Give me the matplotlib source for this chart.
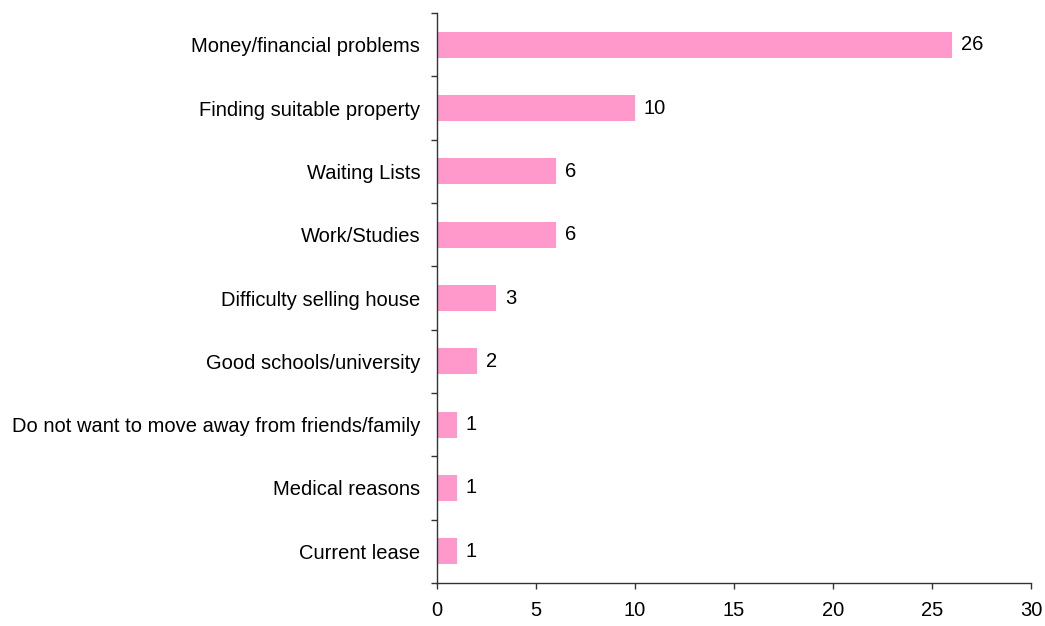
import matplotlib.pyplot as plt
import numpy as np

plt.rcParams['font.family'] = ['Liberation Sans', 'DejaVu Sans']

reasons = ['Money/financial problems', 'Finding suitable property', 'Waiting Lists',
           'Work/Studies', 'Difficulty selling house', 'Good schools/university',
           'Do not want to move away from friends/family', 'Medical reasons', 'Current lease']
counts = [26, 10, 6, 6, 3, 2, 1, 1, 1]

fig = plt.figure(figsize=(10.45, 6.26), dpi=100)
ax = fig.add_axes([0.4182, 0.0687, 0.5684, 0.9105])

y = np.arange(len(reasons))[::-1]
ax.barh(y, counts, height=0.41, color='#FF99CC')
for yi, c in zip(y, counts):
    ax.text(c + 0.45, yi, str(c), va='center', ha='left', fontsize=14.5, color='black')

ax.set_xlim(0, 30)
ax.set_ylim(-0.5, len(reasons) - 0.5)
ax.set_xticks([0, 5, 10, 15, 20, 25, 30])

# category names sit between the boundary ticks
ax.set_yticks(y)
ax.set_yticklabels(reasons, fontsize=14.5)
ax.set_yticks(np.arange(-0.5, len(reasons), 1), minor=True)
ax.tick_params(axis='y', which='major', length=0, pad=12)
ax.tick_params(axis='y', which='minor', length=4, width=1, color='#333333', direction='out')
ax.tick_params(axis='x', length=4, width=1, color='#333333', labelsize=14.5, pad=9)

for side in ['top', 'right']:
    ax.spines[side].set_visible(False)
for side in ['left', 'bottom']:
    ax.spines[side].set_color('#333333')
    ax.spines[side].set_linewidth(1)

fig.savefig('out.png', dpi=100)
